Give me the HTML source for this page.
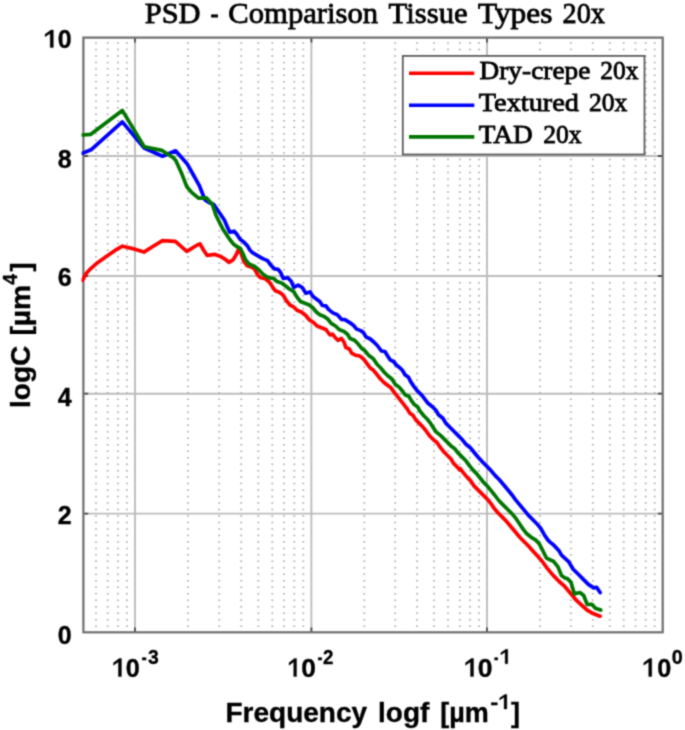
<!DOCTYPE html><html><head><meta charset="utf-8"><style>html,body{margin:0;padding:0;background:#fff;overflow:hidden}svg{display:block}</style></head><body><svg width="685" height="730" viewBox="0 0 685 730"><defs><filter id="bl" color-interpolation-filters="sRGB" x="0" y="0" width="685" height="730" filterUnits="userSpaceOnUse"><feConvolveMatrix order="3" kernelMatrix="0.03607 0.11778 0.03607 0.11778 0.38462 0.11778 0.03607 0.11778 0.03607" divisor="1" edgeMode="duplicate" preserveAlpha="true"/></filter></defs><g filter="url(#bl)"><rect width="685" height="730" fill="#fff"/><path d="M96.0 42.2V630.3M107.7 42.2V630.3M117.9 42.2V630.3M126.9 42.2V630.3M188.1 42.2V630.3M219.2 42.2V630.3M241.2 42.2V630.3M258.3 42.2V630.3M272.3 42.2V630.3M284.1 42.2V630.3M294.3 42.2V630.3M303.3 42.2V630.3M364.3 42.2V630.3M395.2 42.2V630.3M417.1 42.2V630.3M434.1 42.2V630.3M448.0 42.2V630.3M459.8 42.2V630.3M470.0 42.2V630.3M479.0 42.2V630.3M539.9 42.2V630.3M570.8 42.2V630.3M592.8 42.2V630.3M609.8 42.2V630.3M623.7 42.2V630.3M635.5 42.2V630.3M645.7 42.2V630.3M654.7 42.2V630.3" stroke="#acacac" stroke-width="1.8" stroke-dasharray="1.5 4.98" fill="none"/><path d="M135.0 37.6V632.3M311.4 37.6V632.3M487.0 37.6V632.3M83.4 513.6H662.7M83.4 393.7H662.7M83.4 276.0H662.7M83.4 156.0H662.7" stroke="#bcbcbc" stroke-width="1.9" fill="none"/><path d="M135.0 632.3v-4.8M135.0 37.6v4.8M311.4 632.3v-4.8M311.4 37.6v4.8M487.0 632.3v-4.8M487.0 37.6v4.8M83.4 513.6h4.8M662.7 513.6h-4.8M83.4 393.7h4.8M662.7 393.7h-4.8M83.4 276.0h4.8M662.7 276.0h-4.8M83.4 156.0h4.8M662.7 156.0h-4.8" stroke="#4a4a4a" stroke-width="1.8" fill="none"/><rect x="83.4" y="37.6" width="579.3" height="594.7" fill="none" stroke="#6e6e6e" stroke-width="2.2"/><clipPath id="cp"><rect x="81.5" y="35.6" width="583.1" height="598.7"/></clipPath><g fill="none" stroke-width="3.7" stroke-linejoin="round" stroke-linecap="round" clip-path="url(#cp)"><polyline points="82.6,280.2 86.2,273.5 90.5,268.8 97.5,262.7 106.3,256.5 115.0,250.4 122.5,246.2 132.5,248.6 143.9,252.1 153.6,246.0 162.5,240.6 175.4,241.4 186.8,251.3 197.3,245.0 200.0,243.9 203.5,250.0 207.0,255.3 211.4,254.8 214.9,254.4 220.1,256.2 224.5,258.8 228.9,262.3 233.3,259.7 236.8,253.5 238.5,249.2 241.2,253.5 243.8,261.4 247.3,265.8 252.5,267.5 254.4,268.9 257.9,275.0 260.5,277.7 264.9,278.5 269.3,282.0 272.8,287.3 275.4,290.8 279.8,292.5 283.3,295.2 285.9,300.0 290.0,305.0 293.5,306.8 297.0,310.3 301.4,312.0 305.8,315.5 309.3,319.9 313.6,322.5 317.1,326.0 321.5,327.8 325.9,329.5 330.0,335.0 332.6,334.2 335.3,337.7 337.9,340.3 341.4,338.5 344.0,342.0 345.8,347.3 349.3,349.0 351.9,353.4 355.4,355.2 359.8,356.0 363.3,358.7 370.0,367.7 373.5,370.3 377.0,374.7 380.5,379.0 384.0,382.5 387.5,385.2 391.0,387.8 395.0,393.3 400.0,399.6 403.5,404.2 407.0,408.5 409.6,412.9 413.1,415.5 415.8,419.9 419.3,423.4 422.8,426.9 425.4,430.0 430.0,436.3 433.5,439.8 437.0,442.4 440.5,447.7 444.0,452.0 447.5,455.5 451.0,459.0 453.6,463.4 457.1,466.9 459.8,470.0 460.0,468.4 463.5,472.8 467.0,477.1 470.5,480.6 474.0,485.9 477.5,489.4 481.0,492.9 484.5,496.4 488.0,499.9 491.5,504.3 493.5,507.5 497.9,512.8 502.3,517.1 506.6,521.5 511.0,526.8 515.4,532.0 519.8,537.3 524.2,541.7 528.5,546.0 532.0,550.0 537.5,556.0 541.9,561.0 547.5,568.6 553.4,575.6 559.2,581.5 565.0,586.7 570.9,593.7 576.7,600.7 582.6,606.0 587.2,610.1 593.1,613.6 600.1,616.2" stroke="#ff0000"/><polyline points="82.6,153.3 91.0,149.8 122.3,121.9 144.2,148.0 162.5,156.2 175.6,150.8 187.5,164.3 193.4,175.0 199.2,185.3 205.0,199.9 209.0,202.5 213.8,204.5 221.0,215.0 224.5,220.3 227.1,226.4 229.8,232.1 234.2,231.2 236.8,234.3 240.3,239.5 243.8,242.1 247.3,245.6 249.9,250.0 252.5,252.7 257.9,255.8 262.3,258.4 267.5,260.6 271.0,265.4 274.5,268.9 278.0,269.3 280.6,272.4 283.3,278.5 287.7,277.7 291.2,281.2 293.8,287.3 298.2,285.1 302.3,287.5 305.8,293.2 310.1,291.9 312.8,296.3 316.3,298.9 319.8,301.5 322.4,305.5 325.9,305.9 328.5,309.4 332.9,312.9 337.3,314.7 340.8,318.6 341.4,319.3 344.9,319.7 350.1,322.8 353.6,325.4 356.3,328.9 360.6,330.6 363.3,332.4 365.9,336.8 370.3,339.0 373.8,342.0 377.3,345.5 381.4,351.0 384.9,351.5 387.5,355.8 390.1,359.8 393.6,361.5 396.3,365.0 399.8,367.7 402.4,370.3 405.0,374.7 408.5,377.3 410.5,381.4 414.0,386.6 417.5,391.0 421.9,395.4 425.4,399.8 428.0,403.3 432.4,406.8 435.9,410.3 438.5,414.7 442.9,418.2 445.8,423.1 450.1,427.5 453.6,431.0 458.0,435.4 462.4,439.8 465.9,444.2 470.3,447.7 473.8,452.0 478.2,457.3 482.8,462.3 486.3,465.8 490.6,470.1 495.0,475.4 499.4,479.8 503.8,485.0 508.2,490.3 512.5,495.5 515.4,499.6 519.8,504.9 524.2,510.1 528.5,515.4 532.9,519.8 537.3,524.2 540.8,528.5 544.3,534.7 547.8,539.9 550.0,542.1 553.4,544.7 559.2,551.1 561.5,555.2 568.6,561.6 573.2,569.2 579.1,575.0 582.6,578.6 588.4,584.4 593.7,587.9 596.6,587.3 600.1,592.6" stroke="#0000ff"/><polyline points="82.6,135.0 90.5,134.4 122.3,110.4 144.2,146.7 161.8,150.4 173.4,157.7 175.8,160.4 181.7,173.6 186.8,186.7 191.9,192.6 198.5,198.2 206.5,197.9 212.3,204.2 215.8,215.0 219.3,222.0 222.8,229.0 226.3,234.3 229.8,239.5 233.3,243.9 236.8,246.5 240.3,248.3 242.9,253.5 245.5,259.7 249.0,264.0 254.3,266.2 258.8,269.8 263.1,274.2 268.4,277.7 273.6,278.5 277.1,281.6 281.5,282.9 285.0,285.5 289.4,289.0 293.8,291.7 297.0,297.1 300.5,301.5 304.9,303.3 309.3,305.0 312.8,307.7 316.3,312.0 319.8,314.7 324.2,316.4 327.7,319.0 331.2,323.4 335.5,326.0 339.6,329.8 344.0,331.5 347.5,334.2 350.1,338.5 354.5,340.3 358.0,343.8 361.5,348.2 365.0,350.8 368.5,355.2 372.0,357.8 373.5,358.9 377.0,364.2 380.5,367.7 384.0,372.0 387.5,375.5 391.9,379.0 395.4,384.4 398.9,386.9 401.8,390.2 405.3,395.0 408.8,396.3 411.4,400.6 414.0,404.2 417.5,406.8 420.1,411.2 423.6,415.5 427.1,419.0 430.6,423.4 436.1,431.9 440.5,435.4 444.0,438.9 447.5,442.4 451.0,445.9 454.5,448.5 458.0,452.9 461.5,456.4 465.9,460.8 469.6,465.8 473.1,470.1 476.6,473.6 480.1,478.0 483.6,482.4 488.0,486.8 491.5,491.2 495.0,495.5 498.8,500.5 503.1,504.9 507.5,509.3 511.9,513.6 516.3,518.9 519.8,524.2 523.3,529.4 526.8,533.8 531.2,537.3 535.5,539.9 539.0,543.4 542.5,550.0 546.3,557.8 550.0,559.8 553.4,561.2 558.0,566.9 561.5,575.5 565.0,578.0 567.4,578.6 570.9,582.1 574.4,594.0 577.5,593.0 580.2,592.6 583.7,595.5 587.2,604.5 591.9,604.3 595.4,608.3 600.7,610.1" stroke="#007600"/></g><rect x="402.8" y="55.9" width="241.7" height="98.6" fill="#fff" stroke="#5e5e5e" stroke-width="1.8"/><path d="M409 73.2H474.3" stroke="#ff0000" stroke-width="3.6"/><path d="M409 105.2H474.3" stroke="#0000ff" stroke-width="3.6"/><path d="M409 136.9H474.3" stroke="#007600" stroke-width="3.6"/><text x="479.53" y="79.30" font-family="Liberation Serif, serif" font-weight="normal" font-size="25.90" textLength="110.82" lengthAdjust="spacingAndGlyphs" stroke="#000" stroke-width="0.8">Dry-crepe</text><text x="600.20" y="79.30" font-family="Liberation Serif, serif" font-weight="normal" font-size="25.90" textLength="38.30" lengthAdjust="spacingAndGlyphs" stroke="#000" stroke-width="0.8">20x</text><text x="478.78" y="111.40" font-family="Liberation Serif, serif" font-weight="normal" font-size="25.90" textLength="100.14" lengthAdjust="spacingAndGlyphs" stroke="#000" stroke-width="0.8">Textured</text><text x="589.00" y="111.40" font-family="Liberation Serif, serif" font-weight="normal" font-size="25.90" textLength="38.41" lengthAdjust="spacingAndGlyphs" stroke="#000" stroke-width="0.8">20x</text><text x="478.80" y="143.40" font-family="Liberation Serif, serif" font-weight="normal" font-size="25.90" textLength="53.94" lengthAdjust="spacingAndGlyphs" stroke="#000" stroke-width="0.8">TAD</text><text x="543.19" y="143.40" font-family="Liberation Serif, serif" font-weight="normal" font-size="25.90" textLength="38.51" lengthAdjust="spacingAndGlyphs" stroke="#000" stroke-width="0.8">20x</text><text x="144.74" y="22.80" font-family="Liberation Serif, serif" font-weight="normal" font-size="29.00" textLength="55.77" lengthAdjust="spacingAndGlyphs" stroke="#000" stroke-width="0.8">PSD</text><text x="210.40" y="22.80" font-family="Liberation Serif, serif" font-weight="normal" font-size="29.00" textLength="8.07" lengthAdjust="spacingAndGlyphs" stroke="#000" stroke-width="0.8">-</text><text x="228.32" y="22.80" font-family="Liberation Serif, serif" font-weight="normal" font-size="29.00" textLength="149.74" lengthAdjust="spacingAndGlyphs" stroke="#000" stroke-width="0.8">Comparison</text><text x="388.64" y="22.80" font-family="Liberation Serif, serif" font-weight="normal" font-size="29.00" textLength="79.01" lengthAdjust="spacingAndGlyphs" stroke="#000" stroke-width="0.8">Tissue</text><text x="477.92" y="22.80" font-family="Liberation Serif, serif" font-weight="normal" font-size="29.00" textLength="74.60" lengthAdjust="spacingAndGlyphs" stroke="#000" stroke-width="0.8">Types</text><text x="562.58" y="22.80" font-family="Liberation Serif, serif" font-weight="normal" font-size="29.00" textLength="42.35" lengthAdjust="spacingAndGlyphs" stroke="#000" stroke-width="0.8">20x</text><text x="71.6" y="644.1" font-family="Liberation Sans, sans-serif" font-weight="bold" font-size="25" text-anchor="end" stroke="#000" stroke-width="0.35">0</text><text x="71.6" y="523.9" font-family="Liberation Sans, sans-serif" font-weight="bold" font-size="25" text-anchor="end" stroke="#000" stroke-width="0.35">2</text><text x="71.6" y="405.7" font-family="Liberation Sans, sans-serif" font-weight="bold" font-size="25" text-anchor="end" stroke="#000" stroke-width="0.35">4</text><text x="71.6" y="286.0" font-family="Liberation Sans, sans-serif" font-weight="bold" font-size="25" text-anchor="end" stroke="#000" stroke-width="0.35">6</text><text x="71.6" y="167.5" font-family="Liberation Sans, sans-serif" font-weight="bold" font-size="25" text-anchor="end" stroke="#000" stroke-width="0.35">8</text><text x="71.6" y="47.6" font-family="Liberation Sans, sans-serif" font-weight="bold" font-size="25" text-anchor="end" stroke="#000" stroke-width="0.35">0</text><path d="M50.20 47.60 L53.35 47.60 L53.35 30.00 L51.03 30.00 L45.05 34.22 L45.05 36.69 L50.20 33.52Z" fill="#000" stroke="#000" stroke-width="0.35" stroke-linejoin="round"/><path d="M118.41 676.60 L121.45 676.60 L121.45 658.40 L119.21 658.40 L113.45 662.77 L113.45 665.32 L118.41 662.04Z" fill="#000" stroke="#000" stroke-width="0.35" stroke-linejoin="round"/><text x="125.84" y="676.60" font-family="Liberation Sans, sans-serif" font-weight="bold" font-size="25.50" textLength="14.05" lengthAdjust="spacingAndGlyphs" stroke="#000" stroke-width="0.35">0</text><text x="141.62" y="663.80" font-family="Liberation Sans, sans-serif" font-weight="bold" font-size="20.50" textLength="5.22" lengthAdjust="spacingAndGlyphs" stroke="#000" stroke-width="0.35">-</text><text x="148.07" y="663.80" font-family="Liberation Sans, sans-serif" font-weight="bold" font-size="20.50" textLength="10.79" lengthAdjust="spacingAndGlyphs" stroke="#000" stroke-width="0.35">3</text><path d="M293.70 676.60 L296.55 676.60 L296.55 658.40 L294.45 658.40 L289.05 662.77 L289.05 665.32 L293.70 662.04Z" fill="#000" stroke="#000" stroke-width="0.35" stroke-linejoin="round"/><text x="301.30" y="676.60" font-family="Liberation Sans, sans-serif" font-weight="bold" font-size="25.50" textLength="14.64" lengthAdjust="spacingAndGlyphs" stroke="#000" stroke-width="0.35">0</text><text x="317.55" y="663.80" font-family="Liberation Sans, sans-serif" font-weight="bold" font-size="20.50" textLength="4.96" lengthAdjust="spacingAndGlyphs" stroke="#000" stroke-width="0.35">-</text><text x="323.09" y="663.80" font-family="Liberation Sans, sans-serif" font-weight="bold" font-size="20.50" textLength="10.43" lengthAdjust="spacingAndGlyphs" stroke="#000" stroke-width="0.35">2</text><path d="M470.51 676.60 L473.55 676.60 L473.55 658.40 L471.31 658.40 L465.55 662.77 L465.55 665.32 L470.51 662.04Z" fill="#000" stroke="#000" stroke-width="0.35" stroke-linejoin="round"/><text x="477.79" y="676.60" font-family="Liberation Sans, sans-serif" font-weight="bold" font-size="25.50" textLength="14.75" lengthAdjust="spacingAndGlyphs" stroke="#000" stroke-width="0.35">0</text><text x="494.12" y="663.80" font-family="Liberation Sans, sans-serif" font-weight="bold" font-size="20.50" textLength="4.44" lengthAdjust="spacingAndGlyphs" stroke="#000" stroke-width="0.35">-</text><path d="M505.13 663.80 L507.75 663.80 L507.75 649.30 L505.82 649.30 L500.85 652.78 L500.85 654.81 L505.13 652.20Z" fill="#000" stroke="#000" stroke-width="0.35" stroke-linejoin="round"/><path d="M648.71 676.60 L651.75 676.60 L651.75 658.40 L649.51 658.40 L643.75 662.77 L643.75 665.32 L648.71 662.04Z" fill="#000" stroke="#000" stroke-width="0.35" stroke-linejoin="round"/><text x="657.14" y="676.60" font-family="Liberation Sans, sans-serif" font-weight="bold" font-size="25.50" textLength="14.05" lengthAdjust="spacingAndGlyphs" stroke="#000" stroke-width="0.35">0</text><text x="671.86" y="663.80" font-family="Liberation Sans, sans-serif" font-weight="bold" font-size="20.50" textLength="11.01" lengthAdjust="spacingAndGlyphs" stroke="#000" stroke-width="0.35">0</text><text x="225.53" y="721.50" font-family="Liberation Sans, sans-serif" font-weight="bold" font-size="27.50" textLength="141.52" lengthAdjust="spacingAndGlyphs" stroke="#000" stroke-width="0.35">Frequency</text><text x="378.09" y="721.50" font-family="Liberation Sans, sans-serif" font-weight="bold" font-size="27.50" textLength="51.29" lengthAdjust="spacingAndGlyphs" stroke="#000" stroke-width="0.35">logf</text><text x="440.17" y="721.50" font-family="Liberation Sans, sans-serif" font-weight="bold" font-size="27.50" textLength="48.49" lengthAdjust="spacingAndGlyphs" stroke="#000" stroke-width="0.35">[µm</text><text x="490.19" y="709.00" font-family="Liberation Sans, sans-serif" font-weight="bold" font-size="20.50" textLength="7.97" lengthAdjust="spacingAndGlyphs" stroke="#000" stroke-width="0.35">-</text><path d="M504.11 709.00 L506.85 709.00 L506.85 694.40 L504.83 694.40 L499.65 697.90 L499.65 699.95 L504.11 697.32Z" fill="#000" stroke="#000" stroke-width="0.35" stroke-linejoin="round"/><text x="511.08" y="721.50" font-family="Liberation Sans, sans-serif" font-weight="bold" font-size="27.50" textLength="9.05" lengthAdjust="spacingAndGlyphs" stroke="#000" stroke-width="0.35">]</text><g transform="rotate(-90)"><text x="-408.02" y="30.20" font-family="Liberation Sans, sans-serif" font-weight="bold" font-size="27.50" textLength="62.42" lengthAdjust="spacingAndGlyphs" stroke="#000" stroke-width="0.35">logC</text><text x="-335.50" y="30.20" font-family="Liberation Sans, sans-serif" font-weight="bold" font-size="27.50" textLength="50.53" lengthAdjust="spacingAndGlyphs" stroke="#000" stroke-width="0.35">[µm</text><text x="-284.74" y="17.40" font-family="Liberation Sans, sans-serif" font-weight="bold" font-size="20.50" textLength="10.81" lengthAdjust="spacingAndGlyphs" stroke="#000" stroke-width="0.35">4</text><text x="-271.62" y="30.20" font-family="Liberation Sans, sans-serif" font-weight="bold" font-size="27.50" textLength="9.05" lengthAdjust="spacingAndGlyphs" stroke="#000" stroke-width="0.35">]</text></g></g></svg></body></html>
